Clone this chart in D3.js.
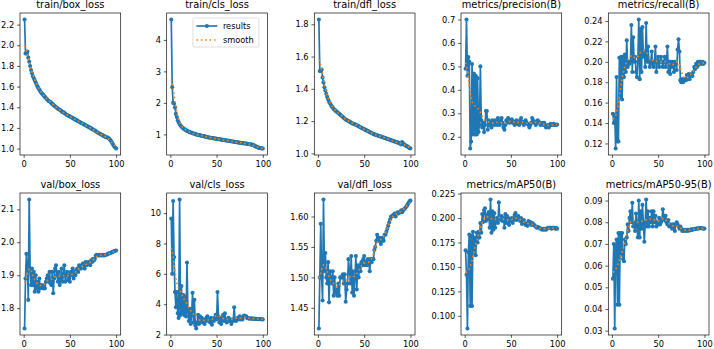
<!DOCTYPE html>
<html>
<head>
<meta charset="utf-8">
<script src="https://cdn.jsdelivr.net/npm/d3@7"></script>
<style>
  body { margin: 0; background: #fff; }
  svg { display: block; font-family: "DejaVu Sans", sans-serif; }
</style>
</head>
<body>
<svg width="714" height="349"></svg>
<script>
const epochs = d3.range(1, 101);

const trainBoxLoss = [2.25,1.92,1.92,1.94,1.88,1.84,1.80,1.76,1.73,1.70,1.68,1.66,1.64,1.62,1.60,1.585,1.57,1.555,1.54,1.53,
  1.52,1.51,1.50,1.49,1.48,1.47,1.46,1.455,1.45,1.44,1.43,1.425,1.415,1.41,1.40,1.395,1.385,1.38,1.375,1.37,
  1.36,1.355,1.35,1.345,1.34,1.33,1.325,1.32,1.315,1.31,1.305,1.30,1.295,1.29,1.285,1.28,1.275,1.27,1.265,1.26,
  1.255,1.25,1.245,1.24,1.235,1.23,1.225,1.22,1.215,1.21,1.205,1.20,1.195,1.19,1.185,1.18,1.175,1.17,1.16,1.155,
  1.15,1.145,1.14,1.135,1.13,1.125,1.12,1.115,1.11,1.11,1.105,1.10,1.09,1.08,1.065,1.05,1.035,1.02,1.01,1.00];

const trainClsLoss = [4.65,2.50,2.00,1.98,1.85,1.65,1.55,1.45,1.38,1.33,1.28,1.25,1.22,1.19,1.17,1.15,1.13,1.11,1.10,1.08,
  1.07,1.06,1.05,1.04,1.03,1.02,1.01,1.00,0.99,0.98,0.975,0.97,0.96,0.955,0.95,0.94,0.935,0.93,0.92,0.91,
  0.905,0.90,0.895,0.89,0.885,0.88,0.875,0.87,0.865,0.86,0.855,0.85,0.845,0.84,0.835,0.83,0.825,0.82,0.815,0.81,
  0.805,0.80,0.795,0.79,0.785,0.78,0.775,0.77,0.765,0.76,0.755,0.75,0.745,0.74,0.735,0.73,0.725,0.72,0.715,0.72,
  0.71,0.705,0.70,0.695,0.69,0.685,0.68,0.675,0.67,0.66,0.63,0.62,0.61,0.595,0.58,0.57,0.565,0.56,0.555,0.55];

const trainDflLoss = [1.83,1.51,1.51,1.52,1.47,1.44,1.41,1.39,1.37,1.35,1.335,1.32,1.31,1.30,1.29,1.285,1.275,1.27,1.265,1.26,
  1.255,1.25,1.245,1.24,1.235,1.23,1.225,1.22,1.215,1.21,1.207,1.204,1.20,1.197,1.194,1.19,1.187,1.184,1.182,1.18,
  1.177,1.174,1.171,1.168,1.165,1.162,1.159,1.156,1.153,1.15,1.147,1.144,1.141,1.138,1.135,1.132,1.129,1.126,1.123,1.12,
  1.118,1.116,1.114,1.112,1.11,1.108,1.106,1.104,1.102,1.10,1.098,1.096,1.094,1.092,1.09,1.088,1.086,1.084,1.082,1.08,
  1.078,1.076,1.074,1.072,1.07,1.068,1.066,1.064,1.06,1.055,1.07,1.062,1.056,1.052,1.048,1.045,1.042,1.038,1.034,1.03];

const precision = [0.49,0.70,0.46,0.54,0.52,0.15,0.18,0.51,0.21,0.47,0.21,0.46,0.21,0.45,0.22,0.25,0.50,0.27,0.24,0.26,
  0.22,0.25,0.31,0.31,0.23,0.27,0.25,0.26,0.24,0.27,0.26,0.25,0.27,0.26,0.25,0.28,0.26,0.25,0.27,0.28,
  0.26,0.24,0.23,0.25,0.27,0.26,0.28,0.27,0.26,0.27,0.275,0.26,0.265,0.25,0.26,0.27,0.255,0.26,0.25,0.27,
  0.28,0.26,0.265,0.25,0.26,0.27,0.26,0.255,0.25,0.24,0.25,0.26,0.28,0.27,0.26,0.265,0.25,0.26,0.27,0.265,
  0.26,0.25,0.255,0.26,0.25,0.26,0.25,0.24,0.245,0.25,0.24,0.25,0.255,0.25,0.25,0.255,0.25,0.252,0.25,0.252];

const recall = [0.149,0.140,0.148,0.115,0.185,0.122,0.122,0.204,0.165,0.205,0.163,0.205,0.185,0.207,0.190,0.221,0.195,0.200,0.198,0.200,
  0.236,0.190,0.224,0.200,0.205,0.190,0.185,0.200,0.2415,0.183,0.232,0.190,0.234,0.205,0.210,0.195,0.238,0.200,0.215,0.200,
  0.195,0.200,0.210,0.198,0.195,0.200,0.215,0.190,0.200,0.205,0.195,0.200,0.205,0.200,0.195,0.200,0.205,0.195,0.200,0.215,
  0.190,0.200,0.188,0.200,0.195,0.200,0.190,0.200,0.198,0.192,0.212,0.222,0.210,0.182,0.180,0.183,0.180,0.182,0.183,0.182,
  0.187,0.183,0.188,0.183,0.187,0.188,0.186,0.190,0.195,0.193,0.198,0.195,0.200,0.197,0.200,0.200,0.198,0.200,0.198,0.199];

const valBoxLoss = [1.738,1.89,1.965,1.93,1.825,2.13,1.92,1.87,1.92,1.87,1.91,1.85,1.90,1.86,1.88,1.85,1.89,1.86,1.87,1.865,
  1.86,1.87,1.86,1.88,1.89,1.90,1.88,1.91,1.875,1.87,1.91,1.845,1.89,1.92,1.93,1.90,1.88,1.91,1.87,1.89,
  1.92,1.88,1.90,1.93,1.88,1.90,1.91,1.885,1.90,1.88,1.91,1.90,1.92,1.89,1.91,1.90,1.915,1.92,1.91,1.93,
  1.925,1.92,1.93,1.935,1.93,1.92,1.94,1.93,1.935,1.94,1.935,1.93,1.945,1.94,1.95,1.945,1.95,1.96,1.962,1.96,
  1.96,1.962,1.96,1.961,1.96,1.962,1.96,1.961,1.962,1.963,1.965,1.966,1.967,1.968,1.969,1.97,1.972,1.973,1.974,1.975];

const valClsLoss = [9.65,6.0,10.8,7.1,4.8,3.8,4.8,3.4,3.1,10.9,3.3,5.2,3.4,4.6,3.3,4.5,3.2,6.75,3.5,2.9,
  3.7,2.7,3.3,4.75,2.8,4.3,2.6,2.4,2.8,3.3,2.7,3.2,2.9,3.1,2.8,3.0,2.7,2.9,3.1,3.2,
  2.9,3.0,2.8,3.1,2.65,3.0,2.9,3.1,3.3,3.0,4.8,3.2,2.8,3.1,2.7,3.0,3.3,2.9,3.4,3.0,
  2.8,3.0,3.1,2.9,3.0,2.7,3.0,2.9,3.8,3.0,2.9,3.0,3.1,3.0,3.2,3.0,3.1,3.0,3.2,3.25,
  3.2,3.2,3.1,3.1,3.05,3.08,3.05,3.06,3.05,3.04,3.05,3.03,3.04,3.03,3.02,3.03,3.02,3.01,3.02,3.0];

const valDflLoss = [1.416,1.50,1.588,1.50,1.462,1.628,1.51,1.54,1.50,1.49,1.525,1.459,1.51,1.50,1.49,1.51,1.47,1.50,1.475,1.48,
  1.47,1.49,1.47,1.50,1.50,1.50,1.505,1.49,1.505,1.46,1.48,1.49,1.53,1.51,1.49,1.535,1.475,1.51,1.47,1.50,
  1.535,1.48,1.52,1.50,1.52,1.51,1.525,1.52,1.53,1.535,1.52,1.525,1.52,1.53,1.525,1.51,1.53,1.525,1.53,1.53,
  1.545,1.55,1.56,1.57,1.565,1.56,1.565,1.555,1.56,1.565,1.56,1.57,1.57,1.575,1.58,1.585,1.59,1.595,1.60,1.60,
  1.602,1.603,1.605,1.60,1.605,1.607,1.605,1.606,1.608,1.61,1.607,1.61,1.612,1.613,1.615,1.617,1.62,1.622,1.625,1.626];

const mAP50 = [0.167,0.142,0.087,0.165,0.183,0.110,0.182,0.110,0.186,0.165,0.180,0.162,0.185,0.175,0.186,0.180,0.195,0.185,0.204,0.196,
  0.208,0.210,0.197,0.203,0.199,0.206,0.190,0.219,0.185,0.207,0.188,0.205,0.190,0.198,0.200,0.195,0.216,0.200,0.198,0.202,
  0.197,0.200,0.190,0.204,0.195,0.202,0.200,0.193,0.199,0.197,0.200,0.195,0.198,0.203,0.205,0.198,0.200,0.202,0.199,0.197,
  0.200,0.194,0.196,0.198,0.195,0.193,0.194,0.192,0.197,0.195,0.196,0.193,0.195,0.194,0.193,0.192,0.191,0.190,0.191,0.190,
  0.190,0.189,0.189,0.188,0.189,0.188,0.189,0.188,0.189,0.190,0.190,0.190,0.190,0.189,0.190,0.190,0.190,0.189,0.190,0.189];

const mAP5095 = [0.054,0.070,0.031,0.069,0.072,0.042,0.075,0.042,0.075,0.065,0.075,0.063,0.062,0.072,0.070,0.073,0.079,0.076,0.082,0.085,
  0.080,0.089,0.078,0.080,0.076,0.084,0.078,0.073,0.090,0.073,0.085,0.077,0.088,0.079,0.071,0.080,0.0905,0.078,0.085,0.078,
  0.082,0.080,0.085,0.078,0.085,0.080,0.083,0.078,0.080,0.079,0.082,0.079,0.080,0.081,0.086,0.083,0.081,0.083,0.080,0.079,
  0.081,0.078,0.079,0.078,0.077,0.079,0.078,0.076,0.079,0.080,0.079,0.078,0.077,0.078,0.077,0.076,0.0765,0.076,0.0765,0.076,
  0.0765,0.076,0.0765,0.0762,0.0765,0.0768,0.0765,0.0768,0.077,0.0768,0.077,0.0772,0.077,0.0772,0.0772,0.0773,0.0772,0.0772,0.077,0.0771];

const panels = [
  { title: "train/box_loss", values: trainBoxLoss, ticks: [1.0,1.2,1.4,1.6,1.8,2.0,2.2], fmt: ".1f" },
  { title: "train/cls_loss", values: trainClsLoss, ticks: [1,2,3,4], fmt: "d", legend: true },
  { title: "train/dfl_loss", values: trainDflLoss, ticks: [1.0,1.2,1.4,1.6,1.8], fmt: ".1f" },
  { title: "metrics/precision(B)", values: precision, ticks: [0.2,0.3,0.4,0.5,0.6,0.7], fmt: ".1f" },
  { title: "metrics/recall(B)", values: recall, ticks: [0.12,0.14,0.16,0.18,0.20,0.22,0.24], fmt: ".2f" },
  { title: "val/box_loss", values: valBoxLoss, ticks: [1.8,1.9,2.0,2.1], fmt: ".1f" },
  { title: "val/cls_loss", values: valClsLoss, ticks: [2,4,6,8,10], fmt: "d" },
  { title: "val/dfl_loss", values: valDflLoss, ticks: [1.45,1.50,1.55,1.60], fmt: ".2f" },
  { title: "metrics/mAP50(B)", values: mAP50, ticks: [0.100,0.125,0.150,0.175,0.200,0.225], fmt: ".3f" },
  { title: "metrics/mAP50-95(B)", values: mAP5095, ticks: [0.03,0.04,0.05,0.06,0.07,0.08,0.09], fmt: ".2f" }
];

// gaussian_filter1d(sigma=3, mode='reflect') like the original plot
function smooth(y, sigma = 3) {
  const r = Math.round(4 * sigma), n = y.length;
  const w = d3.range(-r, r + 1).map(k => Math.exp(-0.5 * k * k / (sigma * sigma)));
  const s = d3.sum(w);
  const idx = j => j < 0 ? -j - 1 : (j >= n ? 2 * n - j - 1 : j);
  return y.map((_, i) => d3.sum(w, (wk, k) => wk * y[idx(i + k - r)]) / s);
}

const svg = d3.select("svg");
const lefts = [20, 166.7, 314.3, 461, 608.3], tops = [13, 193];
const W = 100.7, H = 142;
const blue = "#1f77b4", orange = "#ff7f0e";

const x = d3.scaleLinear().domain([1 - 0.05 * 99, 100 + 0.05 * 99]).range([0, W]);

panels.forEach((p, i) => {
  const g = svg.append("g")
    .attr("transform", `translate(${lefts[i % 5]},${tops[Math.floor(i / 5)]})`);
  const [lo, hi] = d3.extent(p.values);
  const pad = (hi - lo) * 0.05;
  const y = d3.scaleLinear().domain([lo - pad, hi + pad]).range([H, 0]);

  const line = d3.line().x((d, j) => x(epochs[j])).y(d => y(d));

  g.append("path").attr("d", line(p.values))
    .attr("fill", "none").attr("stroke", blue).attr("stroke-width", 1.7)
    .attr("stroke-linejoin", "round");
  g.selectAll("circle").data(p.values).join("circle")
    .attr("cx", (d, j) => x(epochs[j])).attr("cy", d => y(d)).attr("r", 2.05)
    .attr("fill", blue);
  g.append("path").attr("d", line(smooth(p.values)))
    .attr("fill", "none").attr("stroke", orange).attr("stroke-width", 1.65)
    .attr("stroke-dasharray", "1.65 2.73");

  const xa = g.append("g").attr("transform", `translate(0,${H})`)
    .call(d3.axisBottom(x).tickValues([0, 50, 100]).tickSize(2.9).tickPadding(2.9).tickSizeOuter(0));
  const ya = g.append("g")
    .call(d3.axisLeft(y).tickValues(p.ticks).tickFormat(d3.format(p.fmt)).tickSize(2.9).tickPadding(2.9).tickSizeOuter(0));
  [xa, ya].forEach(a => {
    a.select(".domain").remove();
    a.selectAll("line").attr("stroke", "#000").attr("stroke-width", 0.66);
    a.selectAll("text").attr("font-size", 8.26).attr("fill", "#000")
      .attr("font-family", "DejaVu Sans, sans-serif");
  });

  g.append("rect").attr("width", W).attr("height", H)
    .attr("fill", "none").attr("stroke", "#000").attr("stroke-width", 0.66);

  g.append("text").attr("x", W / 2).attr("y", -5).attr("text-anchor", "middle")
    .attr("font-size", 9.9).attr("fill", "#000").text(p.title);

  if (p.legend) {
    const lg = g.append("g").attr("transform", `translate(${W - 74.5},5)`);
    lg.append("rect").attr("width", 66).attr("height", 29).attr("rx", 1.5)
      .attr("fill", "#fff").attr("fill-opacity", 0.8)
      .attr("stroke", "#cccccc").attr("stroke-width", 0.66);
    const items = [{ name: "results", c: blue, dash: null }, { name: "smooth", c: orange, dash: "1.65 2.73" }];
    items.forEach((it, k) => {
      const yy = 8 + k * 14;
      lg.append("line").attr("x1", 3.5).attr("x2", 24.5).attr("y1", yy).attr("y2", yy)
        .attr("stroke", it.c).attr("stroke-width", 1.65).attr("stroke-dasharray", it.dash);
      if (!it.dash) lg.append("circle").attr("cx", 14).attr("cy", yy).attr("r", 2.05).attr("fill", it.c);
      lg.append("text").attr("x", 30).attr("y", yy + 3).attr("font-size", 8.26)
        .attr("fill", "#000").text(it.name);
    });
  }
});
</script>
</body>
</html>
